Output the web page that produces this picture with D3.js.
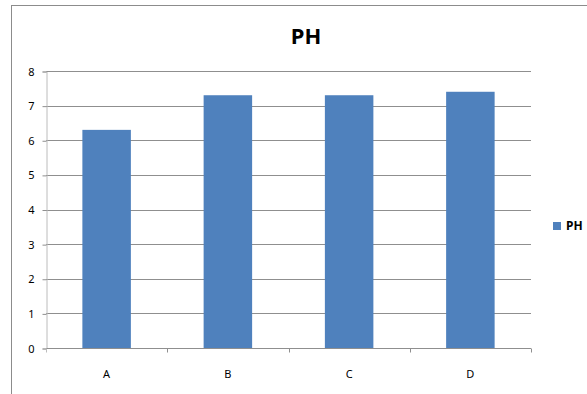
<!DOCTYPE html>
<html>
<head>
<meta charset="utf-8">
<script src="https://cdn.jsdelivr.net/npm/d3@7"></script>
<style>
  html, body { margin: 0; padding: 0; background: #fff; }
  svg { display: block; }
</style>
</head>
<body>
<svg id="chart" width="587" height="394"></svg>
<script>
const categories = ["A", "B", "C", "D"];
const phValues = [6.3, 7.3, 7.3, 7.4];
const yTicks = [0, 1, 2, 3, 4, 5, 6, 7, 8];
const seriesName = "PH";
const titleText = "PH";

const svg = d3.select("#chart");
const W = 587, H = 394;
const plot = { left: 46, right: 531, top: 71, bottom: 348 };
const barColor = "#4F81BD";
const font = "'Noto Sans', 'Open Sans', sans-serif";

// Chart frame (runs off the right and bottom edges)
svg.append("rect")
  .attr("x", 11.5).attr("y", 5.5)
  .attr("width", W).attr("height", H)
  .attr("fill", "#fff")
  .attr("stroke", "#8c8c8c").attr("stroke-width", 1);

const x = d3.scaleBand().domain(categories).range([plot.left, plot.right]).paddingInner(0).paddingOuter(0);
const y = d3.scaleLinear().domain([0, 8]).range([plot.bottom, plot.top]);

// Horizontal gridlines
svg.append("g")
  .selectAll("line")
  .data(yTicks.filter(t => t > 0))
  .join("line")
  .attr("x1", plot.left).attr("x2", plot.right)
  .attr("y1", d => Math.round(y(d)) + 0.5).attr("y2", d => Math.round(y(d)) + 0.5)
  .attr("stroke", "#8f8f8f").attr("stroke-width", 1);

// Y axis
const yAxis = svg.append("g")
  .attr("transform", `translate(${plot.left + 0.5},0.5)`)
  .call(d3.axisLeft(y).tickValues(yTicks).tickSize(4).tickPadding(8).tickFormat(d3.format("d")));
yAxis.select(".domain").attr("stroke", "#bcbcbc");
yAxis.selectAll(".tick line").attr("stroke", "#8f8f8f");
yAxis.selectAll(".tick text")
  .attr("font-family", font).attr("font-size", 11).attr("fill", "#000");

// Bars
const barW = x.bandwidth() * 0.4;
svg.append("g")
  .selectAll("rect")
  .data(categories.map((c, i) => ({ c, v: phValues[i] })))
  .join("rect")
  .attr("x", d => x(d.c) + (x.bandwidth() - barW) / 2)
  .attr("y", d => y(d.v))
  .attr("width", barW)
  .attr("height", d => y(0) - y(d.v))
  .attr("fill", barColor);

// X axis with ticks at category boundaries
const xg = svg.append("g").attr("transform", `translate(0,${plot.bottom + 0.5})`);
xg.append("line")
  .attr("x1", plot.left).attr("x2", plot.right)
  .attr("stroke", "#8f8f8f");
const bounds = categories.map(c => x(c)).concat([plot.right]);
xg.selectAll("line.tick")
  .data(bounds)
  .join("line")
  .attr("class", "tick")
  .attr("x1", d => Math.round(d) + 0.5).attr("x2", d => Math.round(d) + 0.5)
  .attr("y1", 0).attr("y2", 4)
  .attr("stroke", d => d === plot.left ? "#bcbcbc" : "#8f8f8f");
xg.selectAll("text")
  .data(categories)
  .join("text")
  .attr("x", d => x(d) + x.bandwidth() / 2)
  .attr("y", 29)
  .attr("text-anchor", "middle")
  .attr("font-family", font).attr("font-size", 11).attr("fill", "#000")
  .text(d => d);

// Title
svg.append("text")
  .attr("x", 306).attr("y", 44)
  .attr("text-anchor", "middle")
  .attr("font-family", font).attr("font-size", 22).attr("font-weight", "bold")
  .attr("fill", "#000")
  .text(titleText);

// Legend
const lg = svg.append("g").attr("transform", "translate(553,222)");
lg.append("rect").attr("width", 8).attr("height", 8).attr("fill", barColor);
lg.append("text")
  .attr("x", 13).attr("y", 8)
  .attr("font-family", font).attr("font-size", 12).attr("font-weight", "bold")
  .attr("fill", "#000")
  .text(seriesName);
</script>
</body>
</html>
